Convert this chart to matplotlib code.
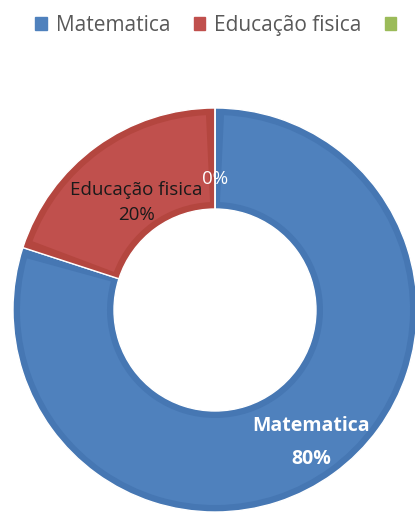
import numpy as np
import matplotlib.pyplot as plt
from matplotlib.patches import Wedge

# subjects and their share
materias = ['Matematica', 'Educação fisica', '']
valores = [80, 20, 0]
cores = ['#4F81BD', '#C0504D', '#9BBB59']
bordas = ['#4677B3', '#B4463F', '#8AA84C']

fig = plt.figure(figsize=(4.15, 5.15), dpi=100)
ax = fig.add_axes([0, 0, 1, 1])

cx, cy, R = 215, 205, 202
larg = R * 0.5
wedges, _ = ax.pie(valores, colors=bordas, startangle=90, counterclock=False,
                   center=(cx, cy), radius=R, frame=True,
                   wedgeprops=dict(width=larg, edgecolor='white', linewidth=1.0))
ax.set_xlim(0, 415)
ax.set_ylim(0, 515)
ax.set_aspect('equal')
ax.axis('off')

# lighter face inset in each wedge (bevel look)
ins = 7
for w, c in zip(wedges, cores):
    if w.theta2 - w.theta1 > 0:
        da = np.rad2deg(ins / (R - larg / 2))
        ax.add_patch(Wedge((cx, cy), R - ins, w.theta1 + da, w.theta2 - da,
                           width=larg - 2 * ins, facecolor=c, edgecolor='none'))

# data labels
total = sum(valores)
raios = [0.81, 0.66, 0.65]
estilos = [dict(color='white', fontweight='bold', fontsize=14, linespacing=1.85),
           dict(color='#1a1a1a', fontsize=13.5, linespacing=1.5),
           dict(color='white', fontsize=13.5)]
for w, nome, v, r, st in zip(wedges, materias, valores, raios, estilos):
    ang = np.deg2rad((w.theta1 + w.theta2) / 2)
    x = cx + r * R * np.cos(ang)
    y = cy + r * R * np.sin(ang)
    pct = f'{v / total * 100:.0f}%'
    txt = f'{nome}\n{pct}' if nome else pct
    ax.text(x, y, txt, ha='center', va='center', family='Open Sans', **st)

leg_handles = [plt.Rectangle((0, 0), 1, 1, color=c) for c in cores]
ax.legend(leg_handles, materias, loc='upper left', bbox_to_anchor=(0.04, 1.008),
          ncol=3, frameon=False, handlelength=0.55, handleheight=0.55,
          handletextpad=0.45, columnspacing=1.1, labelcolor='#595959',
          prop={'family': 'Open Sans', 'size': 15})

fig.savefig('out.png', dpi=100)
